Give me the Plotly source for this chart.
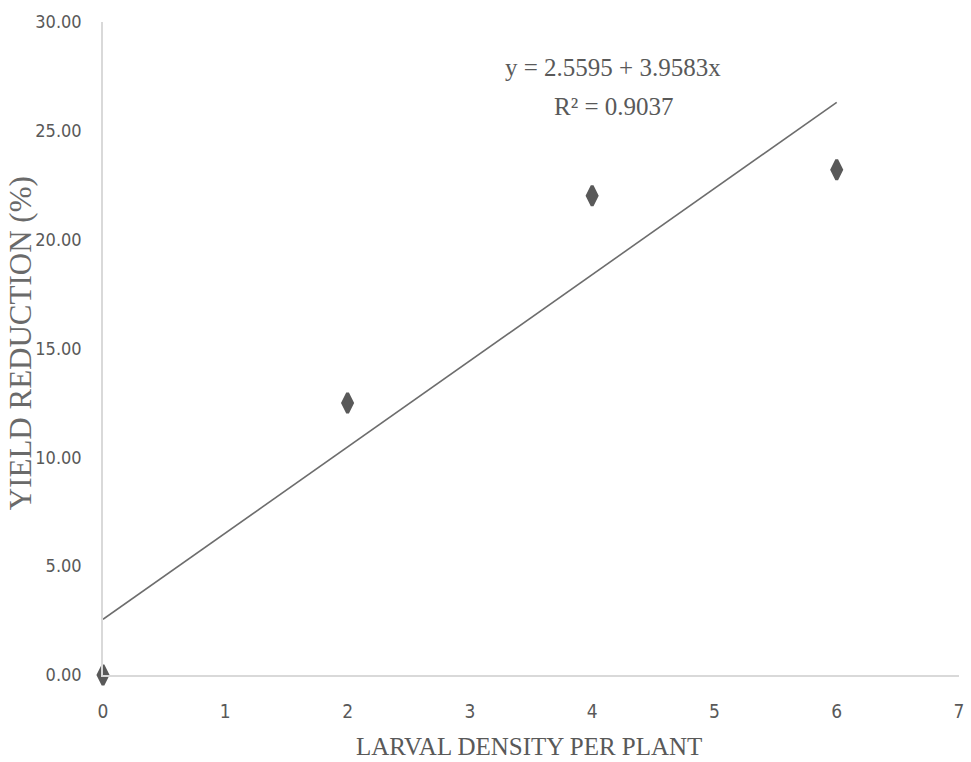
import plotly.graph_objects as go

# Data
larval_density = [0, 2, 4, 6]
yield_reduction = [0.0, 12.5, 22.02, 23.21]

# Linear trend line coefficients (as printed on the chart)
intercept = 2.5595
slope = 3.9583
r_squared = 0.9037

x_ticks = [0, 1, 2, 3, 4, 5, 6, 7]
y_ticks = [0, 5, 10, 15, 20, 25, 30]

GRAY = "#595959"
TICK_FONT = "DejaVu Sans Condensed, Liberation Sans Narrow, sans-serif"
SERIF = "Liberation Serif, Times New Roman, serif"

trend_x = [min(larval_density), max(larval_density)]
trend_y = [intercept + slope * x for x in trend_x]

fig = go.Figure()
fig.add_trace(go.Scatter(
    x=trend_x, y=trend_y, mode="lines",
    line=dict(color="#6d6d6d", width=1.6),
    hoverinfo="skip", showlegend=False,
))
fig.add_trace(go.Scatter(
    x=larval_density, y=yield_reduction, mode="markers",
    marker=dict(symbol="diamond-tall", size=14, color=GRAY,
                line=dict(color=GRAY, width=3)),
    showlegend=False, cliponaxis=False,
))

fig.update_layout(
    width=971, height=762,
    margin=dict(l=103, r=7, t=22, b=87),
    paper_bgcolor="white", plot_bgcolor="white",
    xaxis=dict(
        range=[0, 7], tickvals=x_ticks, ticktext=[str(v) for v in x_ticks],
        showgrid=False, zeroline=False,
        showline=True, linecolor="#d9d9d9", linewidth=1.5,
        ticks="", ticklabelstandoff=18,
        tickfont=dict(family=TICK_FONT, size=19, color=GRAY),
    ),
    yaxis=dict(
        range=[0, 30], tickvals=y_ticks, ticktext=[f"{v:.2f}" for v in y_ticks],
        showgrid=False, zeroline=False,
        showline=True, linecolor="#d9d9d9", linewidth=1.5,
        ticks="", ticklabelstandoff=16,
        tickfont=dict(family=TICK_FONT, size=18, color=GRAY),
    ),
    annotations=[
        dict(text=f"y = {intercept} + {slope}x", xref="paper", yref="paper",
             x=0.596, y=0.93, xanchor="center", yanchor="middle", showarrow=False,
             font=dict(family=SERIF, size=25, color=GRAY)),
        dict(text=f"R² = {r_squared}", xref="paper", yref="paper",
             x=0.597, y=0.871, xanchor="center", yanchor="middle", showarrow=False,
             font=dict(family=SERIF, size=25, color=GRAY)),
        dict(text="LARVAL DENSITY PER PLANT", xref="paper", yref="paper",
             x=0.498, y=-0.11, xanchor="center", yanchor="middle", showarrow=False,
             font=dict(family=SERIF, size=25, color=GRAY)),
        dict(text="YIELD REDUCTION (%)", xref="paper", yref="paper",
             x=-0.097, y=0.508, xanchor="center", yanchor="middle", showarrow=False,
             textangle=-90,
             font=dict(family=SERIF, size=31, color="#6a6a6a")),
    ],
)

fig.write_html("out.html", config={"displayModeBar": False},
               post_script="document.body.style.margin='0';")
